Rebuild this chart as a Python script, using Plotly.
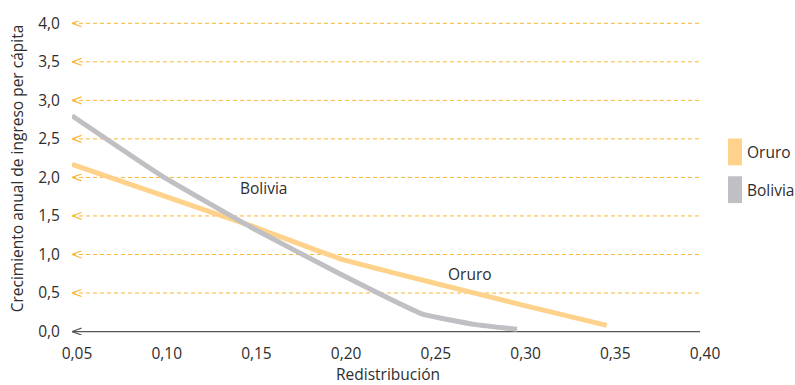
import plotly.graph_objects as go

# Redistribution share (x) and annual per-capita income growth (y)
redistribucion_oruro = [0.05, 0.10, 0.15, 0.20, 0.25, 0.30, 0.348]
crecimiento_oruro = [2.17, 1.77, 1.37, 0.94, 0.64, 0.35, 0.08]

redistribucion_bolivia = [0.05, 0.10, 0.15, 0.20, 0.245, 0.275, 0.298]
crecimiento_bolivia = [2.80, 2.02, 1.35, 0.74, 0.23, 0.09, 0.03]

x_ticks = [0.05, 0.10, 0.15, 0.20, 0.25, 0.30, 0.35, 0.40]
y_ticks = [0.0, 0.5, 1.0, 1.5, 2.0, 2.5, 3.0, 3.5, 4.0]

ORANGE_LINE = "#FFD28C"
GRAY_LINE = "#BFBFC4"
GRID_ORANGE = "#FBB634"
AXIS_GRAY = "#555555"
TEXT = "#2E2E2E"
FONT = "Open Sans"
FS = 15.5

W, H = 795, 385
L, R, T, B = 72, 95, 18.7, 50.2
Y_MIN, Y_MAX = -0.045, 4.03
pw, ph = W - L - R, H - T - B


def py(pix):
    """Pixel row in the page -> paper y coordinate."""
    return (H - B - pix) / ph


def px(pix):
    """Pixel column in the page -> paper x coordinate."""
    return (pix - L) / pw


fig = go.Figure()

shapes = []
x0 = x_ticks[0]
dx, dy = 0.0053, 0.045
for yv in y_ticks:
    is_base = yv == 0
    col = AXIS_GRAY if is_base else GRID_ORANGE
    if not is_base:
        # dashed reference line for each non-zero tick
        shapes.append(dict(
            type="line", xref="x", yref="y", x0=x_ticks[0], x1=x_ticks[-1],
            y0=yv, y1=yv, layer="below",
            line=dict(color=col, width=1, dash="4px,3px")))
    # chevron at the left end
    shapes.append(dict(
        type="path", xref="x", yref="y",
        path=f"M {x0 + dx},{yv + dy} L {x0},{yv} L {x0 + dx},{yv - dy}",
        line=dict(color=col, width=1.2), layer="above"))

# Solid baseline along zero
fig.add_trace(go.Scatter(
    x=[x_ticks[0], x_ticks[-1]], y=[y_ticks[0], y_ticks[0]], mode="lines",
    line=dict(color=AXIS_GRAY, width=1.3), showlegend=False,
    hoverinfo="skip", cliponaxis=False))

fig.add_trace(go.Scatter(
    x=redistribucion_oruro, y=crecimiento_oruro, mode="lines",
    line=dict(color=ORANGE_LINE, width=5, shape="spline", smoothing=0.3),
    name="Oruro", showlegend=False, hoverinfo="skip"))
fig.add_trace(go.Scatter(
    x=redistribucion_bolivia, y=crecimiento_bolivia, mode="lines",
    line=dict(color=GRAY_LINE, width=5, shape="spline", smoothing=0.35),
    name="Bolivia", showlegend=False, hoverinfo="skip"))

# Legend swatches drawn as tall rectangles
legend_items = [("Oruro", ORANGE_LINE), ("Bolivia", GRAY_LINE)]
annotations = []
for i, (name, col) in enumerate(legend_items):
    cy = 150.5 + i * 38
    shapes.append(dict(
        type="rect", xref="paper", yref="paper",
        x0=px(728), x1=px(742), y0=py(cy + 13.5), y1=py(cy - 13.5),
        fillcolor=col, line=dict(width=0), layer="above"))
    annotations.append(dict(
        text=name, xref="paper", yref="paper", x=px(745), y=py(cy),
        xanchor="left", yanchor="middle", showarrow=False,
        font=dict(family=FONT, size=FS, color=TEXT)))

# In-chart series labels
annotations.append(dict(text="Bolivia", x=0.157, y=1.86, showarrow=False,
                        font=dict(family=FONT, size=FS, color=TEXT)))
annotations.append(dict(text="Oruro", x=0.2716, y=0.75, showarrow=False,
                        font=dict(family=FONT, size=FS, color=TEXT)))

# Axis titles
annotations.append(dict(
    text="Crecimiento anual de ingreso per cápita",
    xref="paper", yref="paper", x=px(17), y=py(167),
    xanchor="center", yanchor="middle", textangle=-90, showarrow=False,
    font=dict(family=FONT, size=FS, color=TEXT)))
annotations.append(dict(
    text="Redistribución", xref="paper", yref="paper", x=px(388), y=py(374),
    xanchor="center", yanchor="middle", showarrow=False,
    font=dict(family=FONT, size=FS, color=TEXT)))

fig.update_layout(
    width=W, height=H,
    margin=dict(l=L, r=R, t=T, b=B),
    paper_bgcolor="white", plot_bgcolor="white",
    separators=",.",
    font=dict(family=FONT, size=FS, color=TEXT),
    shapes=shapes, annotations=annotations,
    xaxis=dict(
        range=[0.05, 0.40], tickvals=x_ticks, tickformat=".2f",
        showgrid=False, zeroline=False, showline=False,
        ticks="outside", ticklen=4, tickcolor="rgba(0,0,0,0)",
        ticklabelshift=5, fixedrange=True),
    yaxis=dict(
        range=[Y_MIN, Y_MAX], tickvals=y_ticks, tickformat=".1f",
        showgrid=False, showline=False,
        zeroline=True, zerolinecolor=AXIS_GRAY, zerolinewidth=1.2,
        ticks="outside", ticklen=8, tickcolor="rgba(0,0,0,0)",
        fixedrange=True),
)

fig.write_html("out.html")
